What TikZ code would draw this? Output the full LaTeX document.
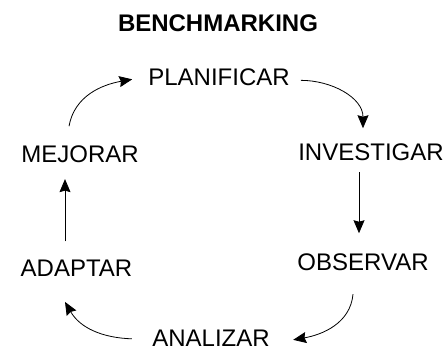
\documentclass[tikz,border=0pt]{standalone}
\usepackage{fontspec}
\setmainfont{Liberation Sans}
\usetikzlibrary{arrows.meta}
\begin{document}
\begin{tikzpicture}[x=1pt,y=1pt,
  lbl/.style={anchor=base,inner sep=0pt,font=\fontsize{24}{28}\selectfont},
  ttl/.style={anchor=base,inner sep=0pt,font=\fontsize{24}{28}\selectfont\bfseries},
  arr/.style={line width=0.8pt,-{Stealth[length=13pt,width=11pt,inset=1.5pt]}}]
\useasboundingbox (0,0) rectangle (446,352);
\node[ttl] (title) at (218,320.5) {BENCHMARKING};
\node[lbl] (plan) at (219,266.5) {PLANIFICAR};
\node[lbl] (inv) at (371,191) {INVESTIGAR};
\node[lbl] (mej) at (80,189) {MEJORAR};
\node[lbl] (obs) at (363,81) {OBSERVAR};
\node[lbl] (ada) at (76.5,75) {ADAPTAR};
\node[lbl] (ana) at (211,5) {ANALIZAR};
\draw[arr] ([shift={(-11,19.8)}]mej.north) to[out=80,in=190] ([shift={(-15.9,-2.1)}]plan.west);
\draw[arr] ([shift={(10.9,-3.1)}]plan.east) to[out=0,in=90] ([shift={(-8,15.8)}]inv.north);
\draw[arr] ([shift={(-12,-10.7)}]inv.south) -- ([shift={(-4,20.8)}]obs.north);
\draw[arr] ([shift={(-10,-22.7)}]obs.south) to[out=-95,in=10] ([shift={(23.3,-1.1)}]ana.east);
\draw[arr] ([shift={(-20.3,-0.1)}]ana.west) to[out=178,in=-60] ([shift={(-11.5,-24.7)}]ada.south);
\draw[arr] ([shift={(-11.5,18.8)}]ada.north) -- ([shift={(-15,-15.7)}]mej.south);
\end{tikzpicture}
\end{document}
